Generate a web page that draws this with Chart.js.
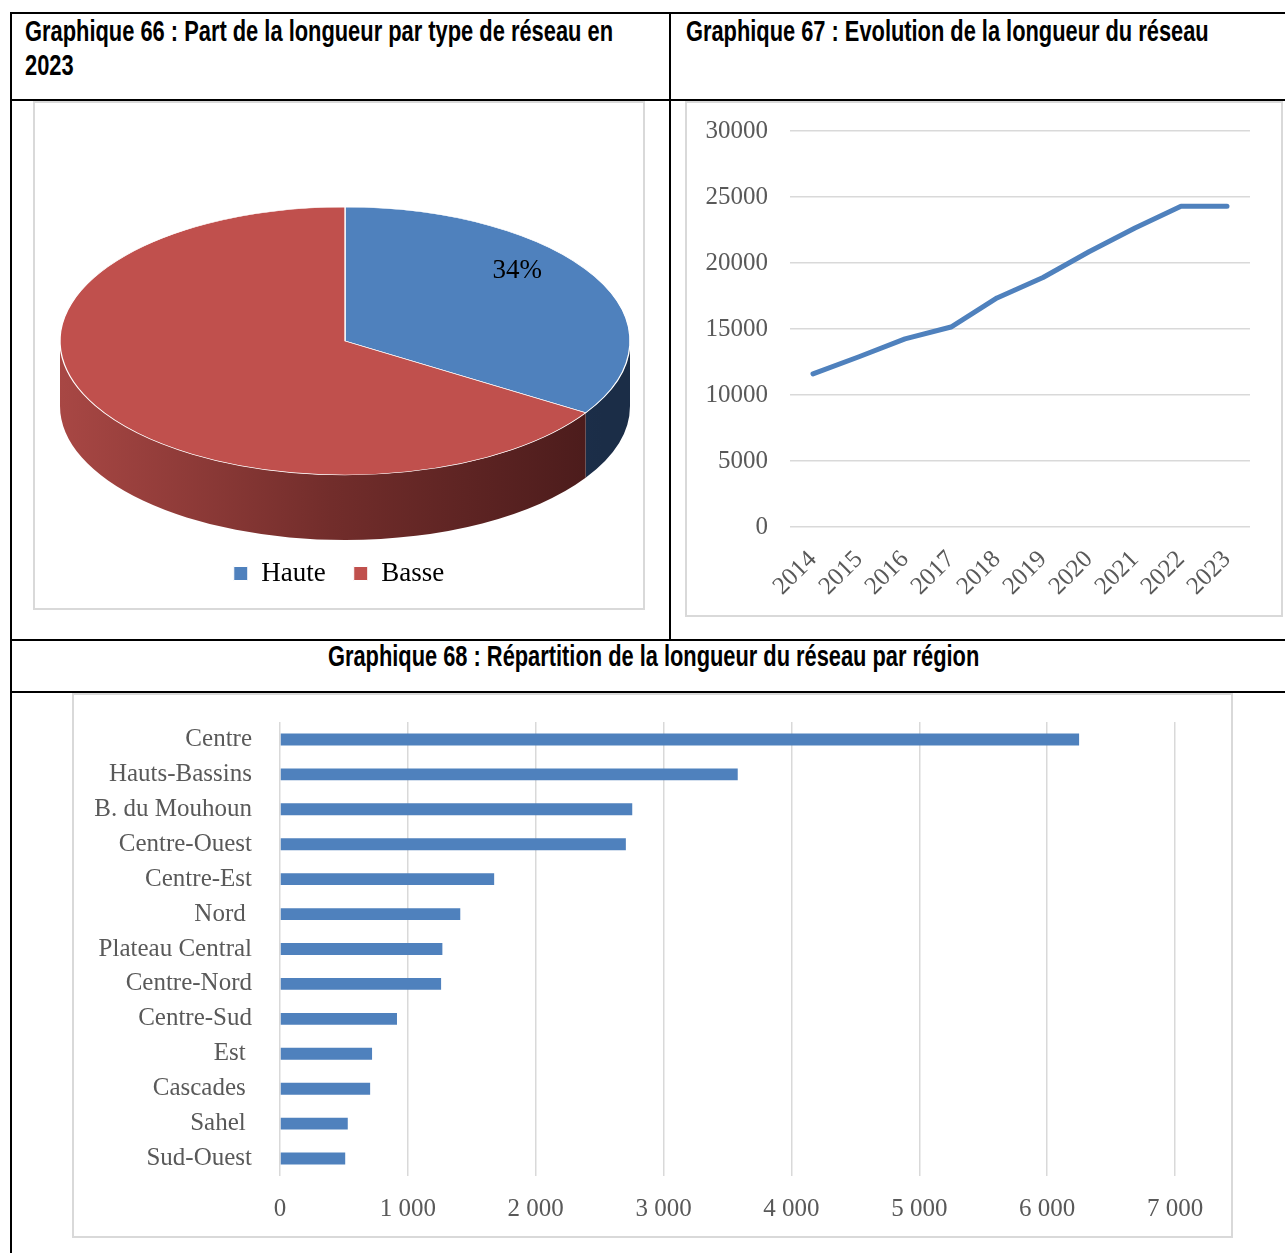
<!DOCTYPE html>
<html>
<head>
<meta charset="utf-8">
<script src="https://cdn.jsdelivr.net/npm/chart.js@4.4.1/dist/chart.umd.min.js"></script>
<style>
body { margin: 0; background: #fff; }
#page { position: relative; width: 1285px; height: 1253px; overflow: hidden; }
.rule { position: absolute; background: #000; }
.title {
  position: absolute;
  font-family: "Liberation Sans Narrow", "Liberation Sans", Arial, sans-serif;
  font-weight: bold; font-size: 29px; line-height: 34px;
  white-space: nowrap; transform-origin: 0 0; color: #000;
}
.frame { position: absolute; box-sizing: border-box; border: 2px solid #D9D9D9; }
canvas { position: absolute; }
</style>
</head>
<body>
<div id="page">
  <!-- table rules -->
  <div class="rule" style="left:10px;top:12px;width:1275px;height:2px"></div>
  <div class="rule" style="left:10px;top:12px;width:2px;height:1241px"></div>
  <div class="rule" style="left:10px;top:99px;width:1275px;height:2px"></div>
  <div class="rule" style="left:669px;top:12px;width:2px;height:628px"></div>
  <div class="rule" style="left:10px;top:639px;width:1275px;height:2px"></div>
  <div class="rule" style="left:10px;top:691px;width:1275px;height:2px"></div>

  <div class="title" data-w="588" style="left:25px;top:14px">Graphique 66 : Part de la longueur par type de réseau en<br>2023</div>
  <div class="title" data-w="523" style="left:686px;top:14px">Graphique 67 : Evolution de la longueur du réseau</div>
  <div class="title" data-w="651" style="left:328px;top:639px">Graphique 68 : Répartition de la longueur du réseau par région</div>

  <div class="frame" style="left:33px;top:101px;width:612px;height:509px"></div>
  <canvas id="pieChart" width="612" height="509" style="left:33px;top:101px"></canvas>

  <div class="frame" style="left:685px;top:101px;width:598px;height:516px"></div>
  <canvas id="lineChart" width="598" height="516" style="left:685px;top:101px"></canvas>

  <div class="frame" style="left:72px;top:693px;width:1161px;height:545px"></div>
  <canvas id="barChart" width="1161" height="545" style="left:72px;top:693px"></canvas>
</div>

<script>
// ======================
// DATA
// ======================

const pieLabels = ["Haute", "Basse"];
const pieShares = [34, 66];

const years = ["2014", "2015", "2016", "2017", "2018", "2019", "2020", "2021", "2022", "2023"];
const networkLength = [11600, 12900, 14250, 15150, 17350, 18900, 20850, 22650, 24300, 24300];
const lengthTicks = [0, 5000, 10000, 15000, 20000, 25000, 30000];

// trailing spaces are in the source labels
const regions = ["Centre", "Hauts-Bassins", "B. du Mouhoun", "Centre-Ouest", "Centre-Est", "Nord ",
  "Plateau Central", "Centre-Nord", "Centre-Sud", "Est ", "Cascades ", "Sahel ", "Sud-Ouest"];
const regionLength = [6250, 3580, 2755, 2705, 1675, 1410, 1270, 1260, 915, 720, 705, 530, 510];
const regionTicks = [0, 1000, 2000, 3000, 4000, 5000, 6000, 7000];

// ======================
// STYLE
// ======================

const SERIF = "'Liberation Serif', 'Times New Roman', serif";
const TICK_GREY = "#595959";
const GRID_GREY = "#D9D9D9";
const BLUE = "#4F81BD";
const RED = "#C0504D";

// squeeze titles to the width they have in the document
document.querySelectorAll(".title").forEach(t => {
  const k = +t.dataset.w / t.scrollWidth;
  t.style.transform = "scaleX(" + k + ")";
});

const spaced = v => String(v).replace(/\B(?=(\d{3})+(?!\d))/g, " ");

// ======================
// 3D PIE (tilted + extruded)
// ======================

const PIE3D = { dx: 6, rx: 285, ry: 134, depth: 65, cy: 240 };
const sideColors = [["#2B4872", "#1B2D47"], ["#A84744", "#722D2B", "#4A1B1B"]];

const pie3d = {
  id: "pie3d",
  beforeDatasetsDraw(chart) {
    const ctx = chart.ctx;
    const arcs = chart.getDatasetMeta(0).data;
    const a0 = arcs[0];
    const cx = a0.x + PIE3D.dx, cy = PIE3D.cy;
    const { rx, ry, depth } = PIE3D;

    // side walls (front half only)
    ctx.save();
    arcs.forEach((arc, i) => {
      const s = Math.max(arc.startAngle, 0);
      const e = Math.min(arc.endAngle, Math.PI);
      if (e <= s) return;
      const g = ctx.createLinearGradient(cx - rx, 0, cx + rx * 0.9, 0);
      const cols = sideColors[i];
      cols.forEach((c, j) => g.addColorStop(j / (cols.length - 1), c));
      ctx.fillStyle = g;
      ctx.beginPath();
      ctx.ellipse(cx, cy, rx, ry, 0, s, e);
      ctx.ellipse(cx, cy + depth, rx, ry, 0, e, s, true);
      ctx.closePath();
      ctx.fill();
    });
    ctx.restore();

    // flatten the top face
    ctx.save();
    ctx.translate(cx, cy);
    ctx.scale(rx / a0.outerRadius, ry / a0.outerRadius);
    ctx.translate(-a0.x, -a0.y);
  },
  afterDatasetsDraw(chart) {
    const ctx = chart.ctx;
    ctx.restore();
    const arc = chart.getDatasetMeta(0).data[0];
    const mid = (arc.startAngle + arc.endAngle) / 2;
    ctx.save();
    ctx.font = "27px " + SERIF;
    ctx.fillStyle = "#000";
    ctx.textAlign = "center";
    ctx.textBaseline = "middle";
    ctx.fillText(pieShares[0] + "%",
      arc.x + PIE3D.dx + PIE3D.rx * 0.69 * Math.cos(mid),
      PIE3D.cy + PIE3D.ry * 1.08 * Math.sin(mid));
    ctx.restore();
  }
};

new Chart(document.getElementById("pieChart"), {
  type: "pie",
  data: {
    labels: pieLabels,
    datasets: [{
      data: pieShares,
      backgroundColor: [BLUE, RED],
      borderColor: "#fff",
      borderWidth: 1
    }]
  },
  options: {
    responsive: false,
    animation: false,
    devicePixelRatio: 1,
    layout: { padding: { bottom: 13 } },
    plugins: {
      legend: {
        position: "bottom",
        labels: { font: { family: SERIF, size: 27 }, color: "#000", boxWidth: 14, boxHeight: 14, padding: 28 }
      },
      tooltip: { enabled: false }
    }
  },
  plugins: [pie3d]
});

// ======================
// NETWORK LENGTH LINE
// ======================

new Chart(document.getElementById("lineChart"), {
  type: "line",
  data: {
    labels: years,
    datasets: [{
      data: networkLength,
      borderColor: BLUE,
      borderWidth: 5,
      borderCapStyle: "round",
      borderJoinStyle: "round",
      pointRadius: 0,
      tension: 0
    }]
  },
  options: {
    responsive: false,
    animation: false,
    devicePixelRatio: 1,
    layout: { padding: { top: 30, right: 33 } },
    plugins: { legend: { display: false }, tooltip: { enabled: false } },
    scales: {
      x: {
        offset: true,
        grid: { display: false },
        border: { display: false },
        ticks: { font: { family: SERIF, size: 25 }, color: TICK_GREY, minRotation: 45, maxRotation: 45, padding: 10, autoSkip: false },
        afterFit(s) { s.height = 90; }
      },
      y: {
        min: lengthTicks[0],
        max: lengthTicks[lengthTicks.length - 1],
        afterBuildTicks(s) { s.ticks = lengthTicks.map(v => ({ value: v })); },
        // label gap kept in tickLength (hidden ticks) so it does not pad the top
        grid: { color: GRID_GREY, lineWidth: 1.5, drawTicks: true, tickLength: 22, tickColor: "rgba(0,0,0,0)" },
        border: { display: false },
        ticks: { font: { family: SERIF, size: 25 }, color: TICK_GREY, padding: 0, callback: v => v },
        afterFit(s) { s.width = 105; }
      }
    }
  }
});

// ======================
// LENGTH BY REGION BARS
// ======================

new Chart(document.getElementById("barChart"), {
  type: "bar",
  data: {
    labels: regions,
    datasets: [{
      data: regionLength,
      backgroundColor: BLUE,
      barPercentage: 0.34,
      categoryPercentage: 1
    }]
  },
  options: {
    indexAxis: "y",
    responsive: false,
    animation: false,
    devicePixelRatio: 1,
    layout: { padding: { top: 29, right: 58 } },
    plugins: { legend: { display: false }, tooltip: { enabled: false } },
    scales: {
      x: {
        min: regionTicks[0],
        max: regionTicks[regionTicks.length - 1],
        afterBuildTicks(s) { s.ticks = regionTicks.map(v => ({ value: v })); },
        grid: { color: GRID_GREY, lineWidth: 1.5, drawTicks: false },
        border: { display: false },
        ticks: { font: { family: SERIF, size: 25 }, color: TICK_GREY, padding: 18, callback: v => spaced(v) },
        afterFit(s) { s.height = 62; }
      },
      y: {
        grid: { display: false, drawTicks: true, tickLength: 28 },
        border: { display: false },
        ticks: { font: { family: SERIF, size: 25 }, color: TICK_GREY, padding: 0, autoSkip: false },
        afterFit(s) { s.width = 208; }
      }
    }
  }
});
</script>
</body>
</html>
